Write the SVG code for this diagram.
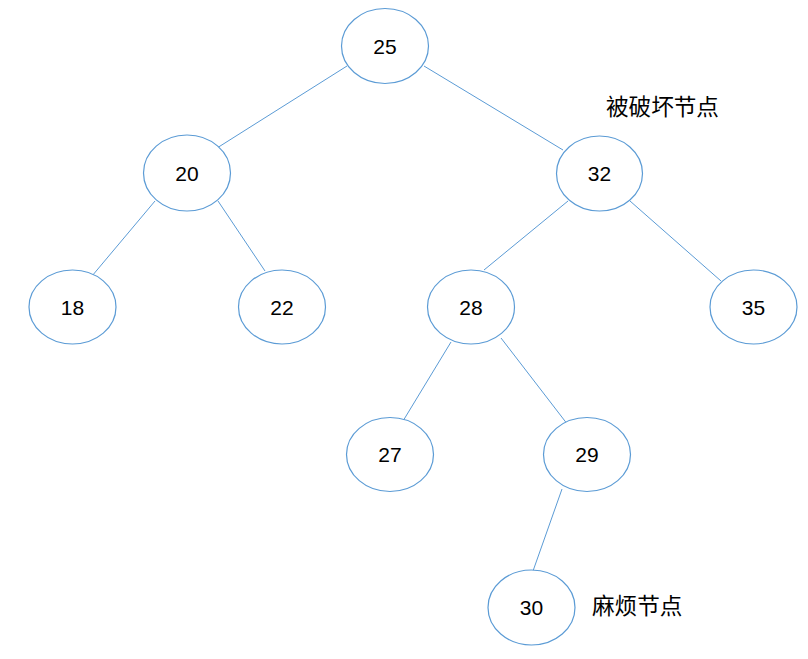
<svg xmlns="http://www.w3.org/2000/svg" width="808" height="659" viewBox="0 0 808 659">
<style>
.n ellipse{fill:#fff;stroke:#5B9BD5;stroke-width:1.2}
.n text{font-family:"Liberation Sans",Arial,sans-serif;font-size:21px;fill:#000;text-anchor:middle}
.e line{stroke:#5B9BD5;stroke-width:1}
.lbl{font-family:"Liberation Sans","Noto Sans CJK SC",sans-serif;font-size:22.6px;fill:#000}
</style>
<rect width="808" height="659" fill="#fff"/>
<g id="edges" class="e">
<line x1="347" y1="66" x2="217" y2="148"/>
<line x1="424" y1="66" x2="563" y2="150"/>
<line x1="155" y1="201" x2="92" y2="276"/>
<line x1="218" y1="201" x2="265" y2="271"/>
<line x1="568" y1="201" x2="484" y2="270"/>
<line x1="630" y1="201" x2="721" y2="281"/>
<line x1="451" y1="342" x2="403" y2="421"/>
<line x1="501" y1="338" x2="568" y2="425"/>
<line x1="562" y1="489" x2="533" y2="571"/>
</g>
<g id="n25" class="n"><ellipse cx="385" cy="46" rx="43.5" ry="37.5"/><text x="385" y="54">25</text></g>
<g id="n20" class="n"><ellipse cx="187" cy="173" rx="43.5" ry="38"/><text x="187" y="181">20</text></g>
<g id="n32" class="n"><ellipse cx="599.5" cy="173.5" rx="43" ry="37.5"/><text x="599.5" y="181">32</text></g>
<g id="n18" class="n"><ellipse cx="72.5" cy="307" rx="43.5" ry="37"/><text x="72.5" y="315">18</text></g>
<g id="n22" class="n"><ellipse cx="282" cy="307" rx="43.5" ry="37"/><text x="282" y="315">22</text></g>
<g id="n28" class="n"><ellipse cx="471" cy="307" rx="43.5" ry="37"/><text x="471" y="315">28</text></g>
<g id="n35" class="n"><ellipse cx="753.5" cy="307" rx="43.5" ry="37"/><text x="753.5" y="315">35</text></g>
<g id="n27" class="n"><ellipse cx="390" cy="454.5" rx="43.5" ry="37"/><text x="390" y="462">27</text></g>
<g id="n29" class="n"><ellipse cx="587" cy="454.5" rx="43.5" ry="37"/><text x="587" y="462">29</text></g>
<g id="n30" class="n"><ellipse cx="531.5" cy="607.5" rx="43.5" ry="37.5"/><text x="531.5" y="615">30</text></g>
<g id="label-broken"><text class="lbl" x="606" y="115">被破坏节点</text></g>
<g id="label-trouble"><text class="lbl" x="592" y="614">麻烦节点</text></g>
</svg>
